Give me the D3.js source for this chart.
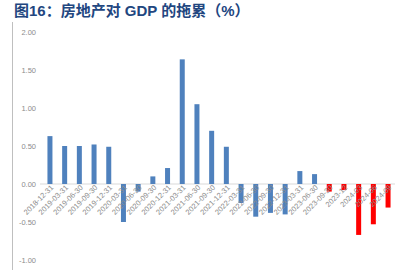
<!DOCTYPE html>
<html>
<head>
<meta charset="utf-8">
<script src="https://cdn.jsdelivr.net/npm/d3@7"></script>
<style>
  body { margin: 0; background: #fff; }
  svg { font-family: "Liberation Sans", "Noto Sans CJK SC", sans-serif; }
  .axis text { fill: #8c8c8c; font-family: "Liberation Sans", sans-serif; }
</style>
</head>
<body>
<svg id="chart"></svg>
<script>
const categories = ['2018-12-31', '2019-03-31', '2019-06-30', '2019-09-30', '2019-12-31',
  '2020-03-31', '2020-06-30', '2020-09-30', '2020-12-31', '2021-03-31', '2021-06-30',
  '2021-09-30', '2021-12-31', '2022-03-31', '2022-06-30', '2022-09-30', '2022-12-31',
  '2023-03-31', '2023-06-30', '2023-09-30', '2023-12', '2024-03', '2024-06', '2024-09'];
const values = [0.63, 0.50, 0.50, 0.52, 0.49, -0.50, -0.10, 0.10, 0.21, 1.64, 1.05,
  0.70, 0.49, -0.25, -0.43, -0.38, -0.40, 0.17, 0.13, -0.10, -0.08, -0.67, -0.53, -0.31];
// last five points are drawn in red
const highlighted = ['2023-09-30', '2023-12', '2024-03', '2024-06', '2024-09'];
const yTicks = [2, 1.5, 1, 0.5, 0, -0.5, -1];

const width = 400, height = 275;
const svg = d3.select('#chart').attr('width', width).attr('height', height);

svg.append('text')
    .attr('x', 14)
    .attr('y', 15.5)
    .attr('fill', '#22467f')
    .attr('font-size', 15)
    .attr('font-weight', 'bold')
    .text('图16：房地产对 GDP 的拖累（%）');

const x = d3.scaleBand()
    .domain(categories)
    .range([42.6, 395.4])
    .paddingInner(0.66)
    .paddingOuter(0.33);

const y = d3.scaleLinear()
    .domain([-1, 2])
    .range([260, 32]);

// left frame line
svg.append('line')
    .attr('x1', 12.5).attr('x2', 12.5)
    .attr('y1', 22).attr('y2', 270)
    .attr('stroke', '#bfbfbf');

const fmt = d => d3.format('.2f')(d).replace('−', '-');

svg.append('g')
    .attr('class', 'axis')
    .attr('transform', 'translate(36,0)')
    .call(d3.axisLeft(y).tickValues(yTicks).tickFormat(fmt).tickSize(0).tickPadding(0))
    .call(g => g.select('.domain').remove())
    .selectAll('text')
    .attr('font-size', 7.5);

// zero line
svg.append('line')
    .attr('x1', 40).attr('x2', 395)
    .attr('y1', y(0)).attr('y2', y(0))
    .attr('stroke', '#d9d9d9');

svg.append('g')
    .selectAll('rect')
    .data(categories)
    .join('rect')
    .attr('x', (d, i) => x(d))
    .attr('width', x.bandwidth())
    .attr('y', (d, i) => y(Math.max(0, values[i])))
    .attr('height', (d, i) => Math.abs(y(values[i]) - y(0)))
    .attr('fill', d => highlighted.includes(d) ? '#ff0000' : '#4f81bd');

svg.append('g')
    .attr('class', 'axis')
    .attr('transform', `translate(0,${y(0)})`)
    .call(d3.axisBottom(x).tickSize(0).tickPadding(0))
    .call(g => g.select('.domain').remove())
    .selectAll('text')
    .attr('font-size', 7.5)
    .attr('text-anchor', 'end')
    .attr('dy', 0)
    .attr('transform', 'translate(4,4) rotate(-45)');
</script>
</body>
</html>
